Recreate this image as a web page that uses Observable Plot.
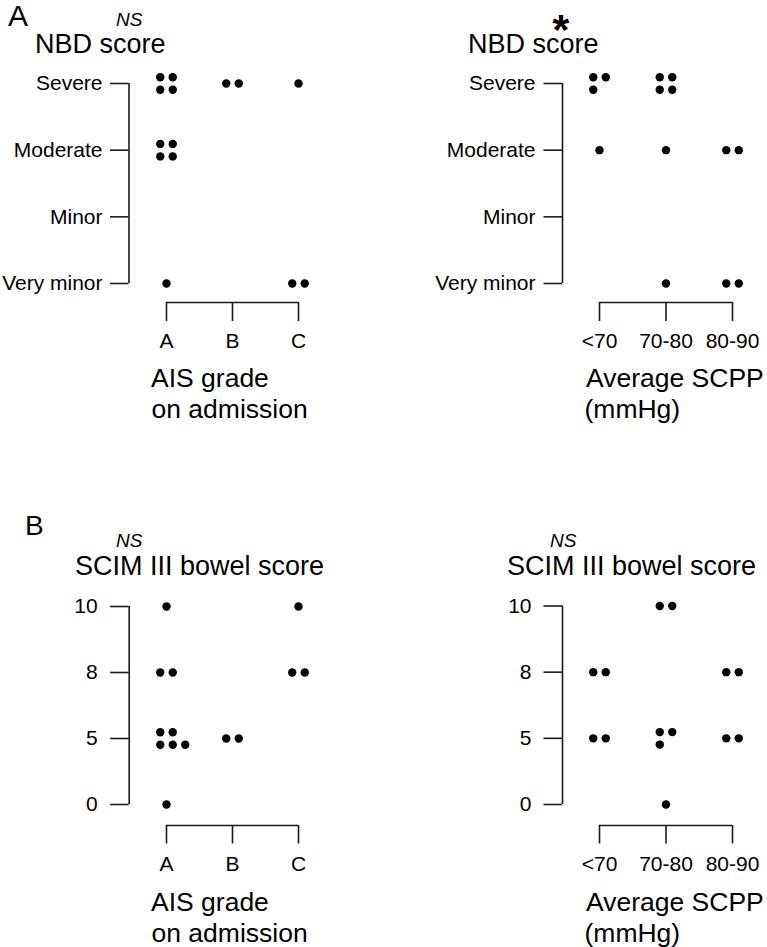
<!DOCTYPE html>
<html><head><meta charset="utf-8">
<script src="https://cdn.jsdelivr.net/npm/d3@7"></script>
<script src="https://cdn.jsdelivr.net/npm/@observablehq/plot@0.6"></script>
<style>
html,body{margin:0;padding:0;background:#fff;}
#fig{position:relative;width:767px;height:947px;overflow:hidden;font-family:"Liberation Sans",Arial,Helvetica,sans-serif;color:#000;background:#fff;}
#fig svg{position:absolute;}
.t{position:absolute;line-height:1;white-space:nowrap;color:#000;}
</style></head><body><div id="fig"></div>
<script>
// ---- data ----
const aisGrades = ["A", "B", "C"];
const scppGroups = ["<70", "70-80", "80-90"];
const nbdLevels = ["Severe", "Moderate", "Minor", "Very minor"];
const scimLevels = ["10", "8", "5", "0"];
// patient counts per [group][level]
const nbdCountsByAis = [[4, 4, 0, 1], [2, 0, 0, 0], [1, 0, 0, 2]];
const nbdCountsByScpp = [[3, 1, 0, 0], [4, 1, 0, 1], [0, 2, 0, 2]];
const scimCountsByAis = [[1, 2, 5, 1], [0, 0, 2, 0], [1, 2, 0, 0]];
const scimCountsByScpp = [[0, 2, 2, 0], [2, 0, 3, 1], [0, 2, 2, 0]];
const significance = ["NS", "*", "NS", "NS"];
const panelLetters = ["A", "B"];
const yTitles = ["NBD score", "SCIM III bowel score"];
const xTitles = [["AIS grade", "on admission"], ["Average SCPP", "(mmHg)"]];

const FONT = '"Liberation Sans", Arial, Helvetica, sans-serif';
const fig = document.getElementById("fig");

function panel(groups, levels, counts, g) {
  const nG = groups.length, nL = levels.length;
  const stepX = (g.lastX - g.firstX) / (nG - 1);
  const stepY = (g.lastY - g.firstY) / (nL - 1);
  const x0 = -(g.firstX - g.bracketX) / stepX;
  const y0 = (nL - 1) + (g.bracketY - g.lastY) / stepY;
  const colStep = 12.5 / stepX, rowStep = 12.5 / stepY;
  const pts = [];
  counts.forEach((row, gi) => row.forEach((n, li) => {
    const top = Math.min(n, 2);
    for (let k = 0; k < n; k++) {
      const r = k < 2 ? 0 : 1, c = k < 2 ? k : k - 2;
      pts.push({
        group: groups[gi], level: levels[li],
        x: gi + (c - (top - 1) / 2) * colStep,
        y: li + (n > 2 ? (r - 0.5) * rowStep : 0)
      });
    }
  }));
  const stroke = "#1a1a1a";
  const svg = Plot.plot({
    width: g.width, height: g.height,
    marginLeft: g.bracketX - g.left, marginRight: g.left + g.width - g.lastX,
    marginTop: g.firstY - g.top, marginBottom: g.top + g.height - g.bracketY,
    x: {type: "linear", domain: [x0, nG - 1]},
    y: {type: "linear", domain: [y0, 0]},
    style: {fontFamily: FONT, fontSize: "21px", color: "#000", background: "transparent", overflow: "visible"},
    marks: [
      Plot.ruleX([x0], {y1: 0, y2: nL - 1, stroke, strokeWidth: 1.6}),
      Plot.ruleY([y0], {x1: 0, x2: nG - 1, stroke, strokeWidth: 1.6}),
      Plot.axisY(d3.range(nL), {tickFormat: i => levels[i], tickSize: 18.5, tickPadding: g.padY, stroke, strokeWidth: 1.6, fill: "#000", fontSize: 21, label: null}),
      Plot.axisX(d3.range(nG), {tickFormat: i => groups[i], tickSize: g.tickX, tickPadding: 12, stroke, strokeWidth: 1.6, fill: "#000", fontSize: 21, label: null}),
      Plot.dot(pts, {x: "x", y: "y", r: 4.2, fill: "#000", stroke: null})
    ]
  });
  svg.style.left = g.left + "px";
  svg.style.top = g.top + "px";
  fig.appendChild(svg);
}

panel(aisGrades, nbdLevels, nbdCountsByAis,
  {left: 0, top: 0, width: 383, height: 370, bracketX: 128.5, firstX: 166, lastX: 298, firstY: 83, lastY: 283, bracketY: 302, padY: 8, tickX: 19});
panel(scppGroups, nbdLevels, nbdCountsByScpp,
  {left: 383, top: 0, width: 384, height: 370, bracketX: 562, firstX: 599, lastX: 732, firstY: 83, lastY: 283, bracketY: 302, padY: 8.5, tickX: 19});
panel(aisGrades, scimLevels, scimCountsByAis,
  {left: 0, top: 500, width: 383, height: 370, bracketX: 128.7, firstX: 166, lastX: 298, firstY: 606, lastY: 804, bracketY: 825, padY: 13, tickX: 18.5});
panel(scppGroups, scimLevels, scimCountsByScpp,
  {left: 383, top: 500, width: 384, height: 370, bracketX: 562, firstX: 599, lastX: 732, firstY: 605.5, lastY: 804, bracketY: 825, padY: 12.5, tickX: 18.5});

function addText(str, left, baseline, size, extra = {}, lh = 1) {
  const d = document.createElement("div");
  d.className = "t";
  d.textContent = str;
  d.style.left = left + "px";
  // baseline offset from top of a line box of height lh*size (Liberation Sans ascent .905, descent .212)
  const base = (lh - 1.117) / 2 + 0.905;
  d.style.top = (baseline - base * size) + "px";
  d.style.fontSize = size + "px";
  d.style.lineHeight = String(lh);
  Object.assign(d.style, extra);
  fig.appendChild(d);
}

// panel letters
addText(panelLetters[0], 8, 26, 30);
addText(panelLetters[1], 25, 536, 28);
// significance marks
const ital = {fontStyle: "italic"};
addText(significance[0], 116, 26, 19, ital);
addText(significance[1], 552.5, 44.5, 43, {fontWeight: "bold", height: "16px"}, 0.35);
addText(significance[2], 116, 547, 19, ital);
addText(significance[3], 550, 547, 19, ital);
// y titles
addText(yTitles[0], 35, 54, 27);
addText(yTitles[0], 468, 53.5, 27);
addText(yTitles[1], 75, 576, 27);
addText(yTitles[1], 507, 576, 27);
// x titles
addText(xTitles[0][0], 151, 387.5, 26.5);
addText(xTitles[0][1], 151.5, 418, 26.5);
addText(xTitles[1][0], 586, 387.5, 26.5);
addText(xTitles[1][1], 584.5, 418, 26.5);
addText(xTitles[0][0], 151, 911.5, 26.5);
addText(xTitles[0][1], 151.5, 942, 26.5);
addText(xTitles[1][0], 586, 911.5, 26.5);
addText(xTitles[1][1], 584.5, 942, 26.5);
</script>
</body></html>
